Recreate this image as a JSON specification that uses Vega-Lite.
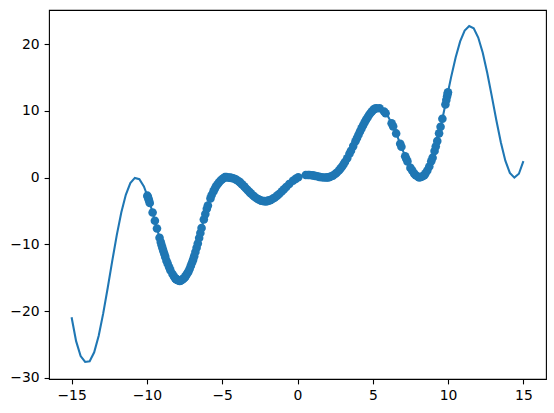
{
  "$schema": "https://vega.github.io/schema/vega-lite/v6.json",
  "autosize": {"type": "none"},
  "padding": {"left": 49, "top": 10, "right": 8, "bottom": 34},
  "width": 497,
  "height": 369,
  "background": "white",
  "config": {
    "view": {"stroke": "black", "strokeWidth": 1.1},
    "axis": {
      "grid": false, "domain": false,
      "tickColor": "black", "tickWidth": 1.1, "tickSize": 4.9,
      "labelFont": "DejaVu Sans", "labelFontSize": 13.9, "labelColor": "black",
      "labelPadding": 4.9, "title": null
    }
  },
  "datasets": {
    "curve": [
      {"x": -15.0, "y": -20.9}, {"x": -14.7, "y": -24.48}, {"x": -14.4, "y": -26.72}, {"x": -14.1, "y": -27.6},
      {"x": -13.8, "y": -27.5}, {"x": -13.5, "y": -26.15}, {"x": -13.2, "y": -23.66}, {"x": -12.9, "y": -20.33},
      {"x": -12.6, "y": -16.49}, {"x": -12.3, "y": -12.47}, {"x": -12.0, "y": -8.61}, {"x": -11.7, "y": -5.23},
      {"x": -11.4, "y": -2.57}, {"x": -11.1, "y": -0.81}, {"x": -10.8, "y": -0.04}, {"x": -10.5, "y": -0.24},
      {"x": -10.2, "y": -1.32}, {"x": -9.9, "y": -3.12}, {"x": -9.6, "y": -5.38}, {"x": -9.3, "y": -7.86},
      {"x": -9.0, "y": -10.3}, {"x": -8.7, "y": -12.44}, {"x": -8.4, "y": -14.09}, {"x": -8.1, "y": -15.15},
      {"x": -7.8, "y": -15.5}, {"x": -7.5, "y": -15.0}, {"x": -7.2, "y": -13.9}, {"x": -6.9, "y": -12.1},
      {"x": -6.6, "y": -9.7}, {"x": -6.3, "y": -6.9}, {"x": -6.0, "y": -4.5}, {"x": -5.7, "y": -2.6},
      {"x": -5.4, "y": -1.25}, {"x": -5.1, "y": -0.4}, {"x": -4.8, "y": 0.1}, {"x": -4.5, "y": 0.0},
      {"x": -4.2, "y": -0.13}, {"x": -3.9, "y": -0.54}, {"x": -3.6, "y": -1.18}, {"x": -3.3, "y": -1.9},
      {"x": -3.0, "y": -2.59}, {"x": -2.7, "y": -3.13}, {"x": -2.4, "y": -3.47}, {"x": -2.1, "y": -3.55},
      {"x": -1.8, "y": -3.37}, {"x": -1.5, "y": -2.97}, {"x": -1.2, "y": -2.4}, {"x": -0.9, "y": -1.73},
      {"x": -0.6, "y": -1.06}, {"x": -0.3, "y": -0.46}, {"x": 0.0, "y": 0.0}, {"x": 0.3, "y": 0.29},
      {"x": 0.6, "y": 0.41}, {"x": 0.9, "y": 0.38}, {"x": 1.2, "y": 0.25}, {"x": 1.5, "y": 0.09},
      {"x": 1.8, "y": 0.0}, {"x": 2.1, "y": 0.06}, {"x": 2.4, "y": 0.35}, {"x": 2.7, "y": 0.92},
      {"x": 3.0, "y": 1.77}, {"x": 3.3, "y": 2.9}, {"x": 3.6, "y": 4.24}, {"x": 3.9, "y": 5.69},
      {"x": 4.2, "y": 7.15}, {"x": 4.5, "y": 8.47}, {"x": 4.8, "y": 9.55}, {"x": 5.1, "y": 10.3},
      {"x": 5.4, "y": 10.45}, {"x": 5.7, "y": 10.05}, {"x": 6.0, "y": 9.2}, {"x": 6.3, "y": 7.94},
      {"x": 6.6, "y": 6.36}, {"x": 6.9, "y": 4.62}, {"x": 7.2, "y": 2.92}, {"x": 7.5, "y": 1.46},
      {"x": 7.8, "y": 0.43}, {"x": 8.1, "y": 0.0}, {"x": 8.4, "y": 0.3}, {"x": 8.7, "y": 1.36},
      {"x": 9.0, "y": 3.17}, {"x": 9.3, "y": 5.64}, {"x": 9.6, "y": 8.6}, {"x": 9.9, "y": 11.82},
      {"x": 10.2, "y": 15.05}, {"x": 10.5, "y": 17.98}, {"x": 10.8, "y": 20.39}, {"x": 11.1, "y": 22.02},
      {"x": 11.4, "y": 22.71}, {"x": 11.7, "y": 22.36}, {"x": 12.0, "y": 20.98}, {"x": 12.3, "y": 18.69},
      {"x": 12.6, "y": 15.67}, {"x": 12.9, "y": 12.2}, {"x": 13.2, "y": 8.62}, {"x": 13.5, "y": 5.29},
      {"x": 13.8, "y": 2.54}, {"x": 14.1, "y": 0.7}, {"x": 14.4, "y": 0.0}, {"x": 14.7, "y": 0.58},
      {"x": 15.0, "y": 2.48}
    ],
    "samples": [
      {"x": -9.97, "y": -2.7}, {"x": -9.94, "y": -2.88}, {"x": -9.9, "y": -3.12}, {"x": -9.86, "y": -3.42},
      {"x": -9.81, "y": -3.8}, {"x": -9.62, "y": -5.23}, {"x": -9.47, "y": -6.45}, {"x": -9.33, "y": -7.61},
      {"x": -9.16, "y": -9.0}, {"x": -9.08, "y": -9.65}, {"x": -9.02, "y": -10.14}, {"x": -8.96, "y": -10.58},
      {"x": -8.9, "y": -11.01}, {"x": -8.84, "y": -11.44}, {"x": -8.78, "y": -11.87}, {"x": -8.7, "y": -12.44},
      {"x": -8.62, "y": -12.88}, {"x": -8.52, "y": -13.43}, {"x": -8.44, "y": -13.87}, {"x": -8.3, "y": -14.44},
      {"x": -8.2, "y": -14.8}, {"x": -8.12, "y": -15.08}, {"x": -8.06, "y": -15.2}, {"x": -8.0, "y": -15.27},
      {"x": -7.94, "y": -15.34}, {"x": -7.88, "y": -15.41}, {"x": -7.82, "y": -15.48},
      {"x": -7.76, "y": -15.43}, {"x": -7.7, "y": -15.33}, {"x": -7.64, "y": -15.23}, {"x": -7.58, "y": -15.13},
      {"x": -7.5, "y": -15.0}, {"x": -7.44, "y": -14.78}, {"x": -7.38, "y": -14.56}, {"x": -7.3, "y": -14.27},
      {"x": -7.24, "y": -14.05}, {"x": -7.16, "y": -13.66}, {"x": -7.08, "y": -13.18}, {"x": -7.0, "y": -12.7},
      {"x": -6.93, "y": -12.28}, {"x": -6.86, "y": -11.78}, {"x": -6.78, "y": -11.14}, {"x": -6.7, "y": -10.5},
      {"x": -6.62, "y": -9.86}, {"x": -6.53, "y": -9.05}, {"x": -6.45, "y": -8.3}, {"x": -6.37, "y": -7.55},
      {"x": -6.22, "y": -6.26}, {"x": -6.12, "y": -5.46}, {"x": -6.02, "y": -4.66}, {"x": -5.95, "y": -4.18},
      {"x": -5.78, "y": -3.11}, {"x": -5.7, "y": -2.6}, {"x": -5.58, "y": -2.06}, {"x": -5.5, "y": -1.7},
      {"x": -5.42, "y": -1.34}, {"x": -5.32, "y": -1.02}, {"x": -5.22, "y": -0.74}, {"x": -5.12, "y": -0.46},
      {"x": -5.02, "y": -0.27}, {"x": -4.92, "y": -0.1}, {"x": -4.82, "y": 0.07},
      {"x": -4.72, "y": 0.07}, {"x": -4.6, "y": 0.03}, {"x": -4.5, "y": 0.0}, {"x": -4.4, "y": -0.04},
      {"x": -4.28, "y": -0.1}, {"x": -4.15, "y": -0.2}, {"x": -4.05, "y": -0.34}, {"x": -3.9, "y": -0.54},
      {"x": -3.8, "y": -0.75}, {"x": -3.68, "y": -1.01}, {"x": -3.55, "y": -1.3}, {"x": -3.45, "y": -1.54},
      {"x": -3.33, "y": -1.83}, {"x": -3.2, "y": -2.13}, {"x": -3.1, "y": -2.36}, {"x": -2.95, "y": -2.68},
      {"x": -2.85, "y": -2.86}, {"x": -2.72, "y": -3.09}, {"x": -2.6, "y": -3.24}, {"x": -2.5, "y": -3.36},
      {"x": -2.4, "y": -3.47}, {"x": -2.3, "y": -3.5}, {"x": -2.2, "y": -3.52}, {"x": -2.12, "y": -3.54},
      {"x": -2.05, "y": -3.52},
      {"x": -1.98, "y": -3.48}, {"x": -1.9, "y": -3.43}, {"x": -1.82, "y": -3.38}, {"x": -1.75, "y": -3.3},
      {"x": -1.62, "y": -3.13}, {"x": -1.5, "y": -2.97}, {"x": -1.35, "y": -2.69}, {"x": -1.22, "y": -2.44},
      {"x": -1.05, "y": -2.07}, {"x": -0.9, "y": -1.73}, {"x": -0.75, "y": -1.4}, {"x": -0.55, "y": -0.96},
      {"x": -0.3, "y": -0.46}, {"x": -0.12, "y": -0.18}, {"x": 0.05, "y": 0.05}, {"x": 0.55, "y": 0.39},
      {"x": 0.7, "y": 0.4}, {"x": 0.8, "y": 0.39}, {"x": 0.95, "y": 0.36}, {"x": 1.05, "y": 0.32},
      {"x": 1.15, "y": 0.27}, {"x": 1.3, "y": 0.2}, {"x": 1.45, "y": 0.12}, {"x": 1.6, "y": 0.06},
      {"x": 1.75, "y": 0.02}, {"x": 1.9, "y": 0.02}, {"x": 2.0, "y": 0.04}, {"x": 2.1, "y": 0.06},
      {"x": 2.2, "y": 0.16}, {"x": 2.35, "y": 0.3}, {"x": 2.5, "y": 0.54}, {"x": 2.6, "y": 0.73},
      {"x": 2.75, "y": 1.06}, {"x": 2.85, "y": 1.35}, {"x": 2.95, "y": 1.63}, {"x": 3.05, "y": 1.96},
      {"x": 3.15, "y": 2.34}, {"x": 3.3, "y": 2.9}, {"x": 3.45, "y": 3.57}, {"x": 3.55, "y": 4.02},
      {"x": 3.7, "y": 4.72}, {"x": 3.85, "y": 5.45}, {"x": 3.95, "y": 5.93}, {"x": 4.05, "y": 6.42},
      {"x": 4.15, "y": 6.91}, {"x": 4.25, "y": 7.37}, {"x": 4.35, "y": 7.81}, {"x": 4.45, "y": 8.25},
      {"x": 4.55, "y": 8.65}, {"x": 4.65, "y": 9.01}, {"x": 4.75, "y": 9.37}, {"x": 4.85, "y": 9.68},
      {"x": 4.95, "y": 9.93}, {"x": 5.05, "y": 10.18}, {"x": 5.15, "y": 10.33}, {"x": 5.25, "y": 10.38},
      {"x": 5.45, "y": 10.38}, {"x": 5.75, "y": 9.91}, {"x": 5.85, "y": 9.63}, {"x": 6.25, "y": 8.15},
      {"x": 6.35, "y": 7.68}, {"x": 6.55, "y": 6.62}, {"x": 6.82, "y": 5.08}, {"x": 6.9, "y": 4.62},
      {"x": 7.15, "y": 3.2}, {"x": 7.22, "y": 2.82}, {"x": 7.3, "y": 2.43}, {"x": 7.5, "y": 1.46},
      {"x": 7.62, "y": 1.05}, {"x": 7.75, "y": 0.6}, {"x": 7.85, "y": 0.36}, {"x": 8.0, "y": 0.14},
      {"x": 8.08, "y": 0.03},
      {"x": 8.2, "y": 0.1}, {"x": 8.3, "y": 0.2}, {"x": 8.42, "y": 0.37}, {"x": 8.5, "y": 0.65},
      {"x": 8.62, "y": 1.08}, {"x": 8.75, "y": 1.66}, {"x": 8.88, "y": 2.45}, {"x": 8.97, "y": 2.99},
      {"x": 9.1, "y": 3.99}, {"x": 9.18, "y": 4.65}, {"x": 9.28, "y": 5.47}, {"x": 9.4, "y": 6.63},
      {"x": 9.5, "y": 7.61}, {"x": 9.62, "y": 8.81}, {"x": 9.82, "y": 10.96}, {"x": 9.88, "y": 11.61},
      {"x": 9.93, "y": 12.14}, {"x": 9.97, "y": 12.57}, {"x": 9.99, "y": 12.79}
    ]
  },
  "encoding": {
    "x": {"field": "x", "type": "quantitative",
          "scale": {"domain": [-16.5, 16.5], "nice": false, "zero": false},
          "axis": {"values": [-15, -10, -5, 0, 5, 10, 15]}},
    "y": {"field": "y", "type": "quantitative",
          "scale": {"domain": [-30.15, 25.1], "nice": false, "zero": false},
          "axis": {"values": [-30, -20, -10, 0, 10, 20]}}
  },
  "layer": [
    {"data": {"name": "curve"}, "mark": {"type": "line", "color": "#1f77b4", "strokeWidth": 2.08, "clip": true}},
    {"data": {"name": "samples"}, "mark": {"type": "circle", "color": "#1f77b4", "size": 74, "opacity": 1}}
  ]
}
